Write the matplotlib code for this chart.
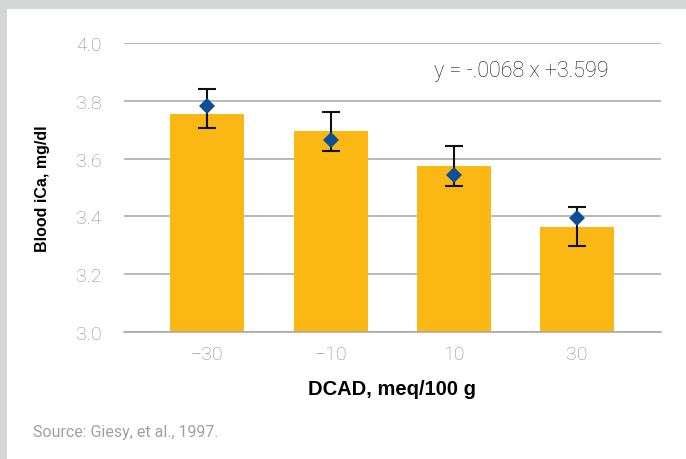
import matplotlib
matplotlib.use("Agg")
import matplotlib.pyplot as plt
from matplotlib.patches import Rectangle

categories = ["\u221230", "\u221210", "10", "30"]
bar_values = [3.755, 3.696, 3.574, 3.363]
point_values = [3.783, 3.665, 3.544, 3.394]
err_low = [3.707, 3.626, 3.506, 3.298]
err_high = [3.841, 3.761, 3.643, 3.433]
y_ticks = [3.0, 3.2, 3.4, 3.6, 3.8, 4.0]
equation = "y = -.0068 x +3.599"

W, H = 686, 460
fig = plt.figure(figsize=(W / 100, H / 100), dpi=100)
fig.patch.set_facecolor("white")
gray_bg = "#d4d5d7"
fig.add_artist(Rectangle((0, 1 - 10 / H), 1, 10 / H, transform=fig.transFigure,
                         facecolor=gray_bg, edgecolor="none", zorder=0))
fig.add_artist(Rectangle((0, 0), 7 / W, 1, transform=fig.transFigure,
                         facecolor=gray_bg, edgecolor="none", zorder=0))

left, right = 124 / W, 661 / W
bottom, top = 1 - 333 / H, 1 - 44 / H
ax = fig.add_axes([left, bottom, right - left, top - bottom])
ax.set_facecolor("none")

x = list(range(len(categories)))
ax.bar(x, bar_values, width=0.6, color="#fbb713", zorder=2)
yerr = [[p - l for p, l in zip(point_values, err_low)],
        [h - p for p, h in zip(point_values, err_high)]]
ax.errorbar(x, point_values, yerr=yerr, fmt="none", ecolor="#111111",
            elinewidth=1.5, capsize=6.5, capthick=1.5, zorder=4)
ax.plot(x, point_values, linestyle="none", marker="D", color="#0b4f96",
        markersize=8, markeredgewidth=0, zorder=5)

ax.set_ylim(3.0, 4.0)
ax.set_xlim(-0.675, 3.68)
ax.set_yticks(y_ticks)
ax.set_yticklabels([f"{v:.1f}" for v in y_ticks])
ax.set_xticks(x)
ax.set_xticklabels(categories)
ax.yaxis.grid(True, color="#a6a6a6", linewidth=1.1, zorder=1)
ax.set_axisbelow(True)
for s in ["top", "right", "left"]:
    ax.spines[s].set_visible(False)
ax.spines["bottom"].set_color("#a6a6a6")
ax.spines["bottom"].set_linewidth(1.1)
ax.spines["bottom"].set_zorder(3)
ax.tick_params(axis="both", length=0, labelcolor="#8c8c8c", labelsize=14)
ax.tick_params(axis="y", pad=16)
ax.tick_params(axis="x", pad=9)
for lab in ax.get_xticklabels() + ax.get_yticklabels():
    lab.set_fontfamily(["Roboto", "DejaVu Sans"])
    lab.set_fontweight("light")

fig.text(392.5 / W, 1 - 390 / H, "DCAD, meq/100 g", ha="center", va="center",
         fontsize=14.5, fontweight="bold", family=["Liberation Sans Narrow", "Liberation Sans"])
fig.text(42 / W, 1 - 189 / H, "Blood iCa, mg/dl", ha="center", va="center",
         rotation=90, fontsize=11.5, fontweight="bold",
         family=["Liberation Sans Narrow", "Liberation Sans"])
fig.text(521 / W, 1 - 72 / H, equation, ha="center", va="center",
         fontsize=15.5, color="#1a1a1a", family=["Roboto", "DejaVu Sans"], fontweight="light")
fig.text(33 / W, 1 - 433 / H, "Source: Giesy, et al., 1997.", ha="left", va="center",
         fontsize=11.5, color="#a0a0a0", family=["Roboto", "Liberation Sans"])

fig.savefig("out.png", dpi=100, facecolor="white")
